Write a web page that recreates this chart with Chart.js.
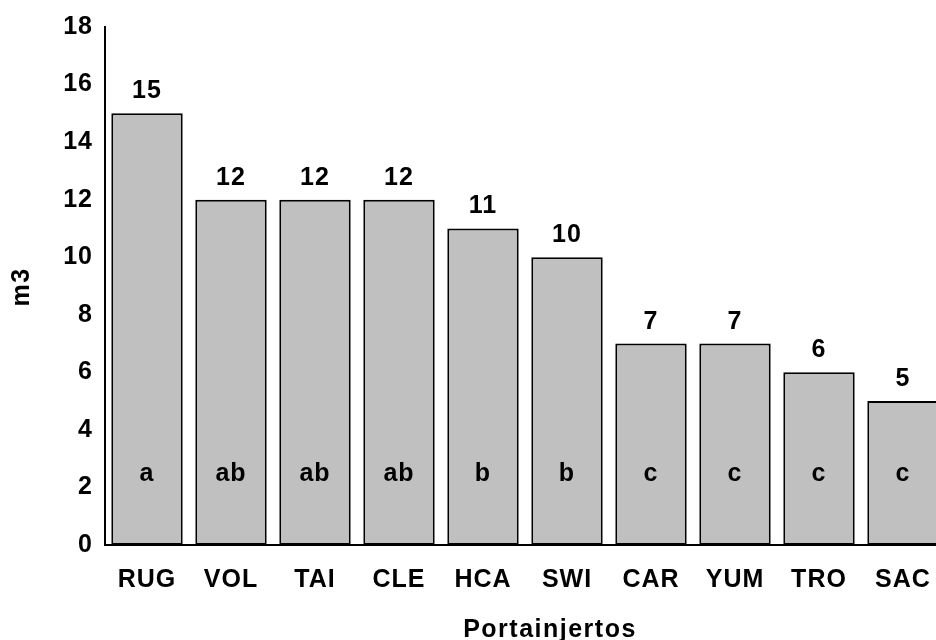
<!DOCTYPE html>
<html>
<head>
<meta charset="utf-8">
<script src="https://cdn.jsdelivr.net/npm/chart.js@4/dist/chart.umd.min.js"></script>
<style>
  html, body { margin: 0; padding: 0; background: #fff; overflow: hidden; }
  #wrap { width: 936px; height: 640px; overflow: hidden; }
  canvas { display: block; }
</style>
</head>
<body>
<div id="wrap"><canvas id="c" width="950" height="640"></canvas></div>
<script>
const categories = ['RUG', 'VOL', 'TAI', 'CLE', 'HCA', 'SWI', 'CAR', 'YUM', 'TRO', 'SAC'];
const values = [15, 12, 12, 12, 11, 10, 7, 7, 6, 5];
const groupLetters = ['a', 'ab', 'ab', 'ab', 'b', 'b', 'c', 'c', 'c', 'c'];
const yTicks = [0, 2, 4, 6, 8, 10, 12, 14, 16, 18];
const xTitle = 'Portainjertos';
const yTitle = 'm3';

const FONT = '"Liberation Sans", Arial, sans-serif';
const FS = 25;
const SPACING = '1px';

const labelPlugin = {
  id: 'labels',
  beforeDraw(chart) {
    chart.ctx.letterSpacing = SPACING;
  },
  afterDatasetsDraw(chart) {
    const ctx = chart.ctx;
    const meta = chart.getDatasetMeta(0);
    const y = chart.scales.y;
    ctx.save();
    ctx.letterSpacing = SPACING;
    ctx.fillStyle = '#000';
    ctx.font = 'bold ' + FS + 'px ' + FONT;
    ctx.textAlign = 'center';
    ctx.textBaseline = 'alphabetic';
    meta.data.forEach((bar, i) => {
      ctx.fillText(String(values[i]), bar.x, bar.y - 15);
      ctx.fillText(groupLetters[i], bar.x, y.getPixelForValue(2.22));
    });
    ctx.restore();
  },
  afterDraw(chart) {
    const ctx = chart.ctx;
    ctx.save();
    ctx.letterSpacing = '1.5px';
    ctx.fillStyle = '#000';
    ctx.font = 'bold ' + FS + 'px ' + FONT;
    ctx.textAlign = 'center';
    ctx.textBaseline = 'middle';
    ctx.fillText(xTitle, 550, 630);
    ctx.translate(22, 287);
    ctx.rotate(-Math.PI / 2);
    ctx.fillText(yTitle, 0, 0);
    ctx.restore();
  }
};

new Chart(document.getElementById('c'), {
  type: 'bar',
  data: {
    labels: categories,
    datasets: [{
      data: values,
      backgroundColor: '#c0c0c0',
      borderColor: '#000',
      borderWidth: 2,
      borderSkipped: false,
      barPercentage: 0.85,
      categoryPercentage: 1.0
    }]
  },
  options: {
    responsive: false,
    animation: false,
    layout: { padding: { top: 24, right: 5, left: 0, bottom: 0 } },
    plugins: { legend: { display: false }, tooltip: { enabled: false } },
    scales: {
      x: {
        grid: { display: false, drawTicks: false },
        border: { display: true, color: '#000', width: 2 },
        ticks: { color: '#000', font: { family: FONT, size: FS, weight: 'bold' }, padding: 20, maxRotation: 0, autoSkip: false },
        afterFit(scale) { scale.height = 95; }
      },
      y: {
        min: 0, max: 18,
        grid: { display: false, drawTicks: false },
        border: { display: true, color: '#000', width: 2 },
        afterBuildTicks(scale) { scale.ticks = yTicks.map(v => ({ value: v })); },
        ticks: { color: '#000', font: { family: FONT, size: FS, weight: 'bold' }, padding: 12 },
        afterFit(scale) { scale.width = 105; }
      }
    }
  },
  plugins: [labelPlugin]
});
</script>
</body>
</html>
